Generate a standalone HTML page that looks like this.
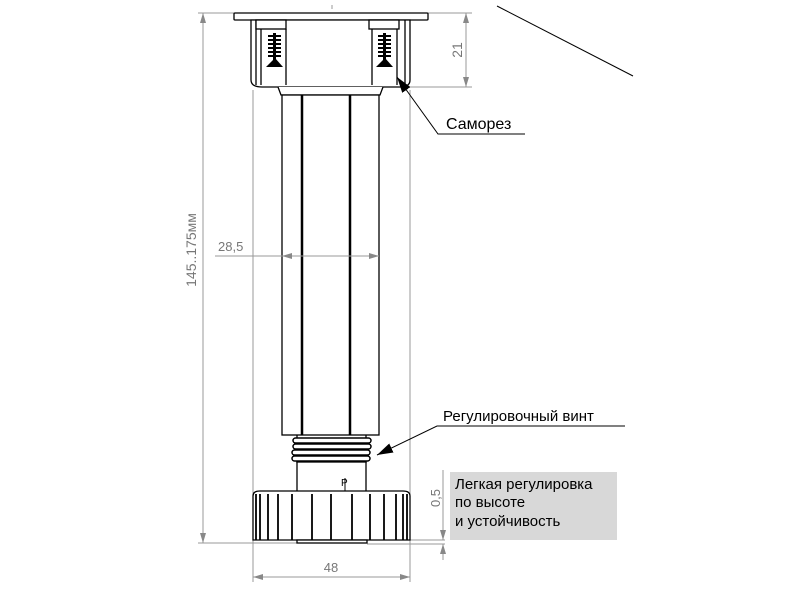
<!DOCTYPE html>
<html><head><meta charset="utf-8"><style>
html,body{margin:0;padding:0;background:#fff;}
svg{display:block;font-family:"Liberation Sans",Arial,sans-serif;}
</style></head><body>
<svg width="800" height="600" viewBox="0 0 800 600" xmlns="http://www.w3.org/2000/svg">
<defs>
<marker id="ag" markerWidth="10" markerHeight="6" refX="10" refY="3" orient="auto-start-reverse" markerUnits="userSpaceOnUse"><path d="M0,0 L10,3 L0,6 Z" fill="#888"/></marker>
<marker id="ab" markerWidth="16" markerHeight="10" refX="16" refY="5" orient="auto" markerUnits="userSpaceOnUse"><path d="M0,0 L16,5 L0,10 Z" fill="#000"/></marker>
</defs>
<g stroke="#999" stroke-width="1" fill="none">
<line x1="203" y1="13" x2="203" y2="543" marker-start="url(#ag)" marker-end="url(#ag)"/>
<line x1="198" y1="13" x2="234" y2="13"/>
<line x1="198" y1="543" x2="297" y2="543"/>
<line x1="428" y1="13" x2="472" y2="13"/>
<line x1="400" y1="87" x2="472" y2="87"/>
<line x1="466" y1="13" x2="466" y2="87" marker-start="url(#ag)" marker-end="url(#ag)"/>
<line x1="253" y1="90" x2="253" y2="582"/>
<line x1="410" y1="90" x2="410" y2="582"/>
<line x1="253" y1="577" x2="410" y2="577" marker-start="url(#ag)" marker-end="url(#ag)"/>
<line x1="410" y1="540" x2="445" y2="540"/>
<line x1="367" y1="544" x2="445" y2="544"/>
<line x1="443" y1="470" x2="443" y2="540" marker-end="url(#ag)"/>
<line x1="443" y1="560" x2="443" y2="544" marker-end="url(#ag)"/>
<line x1="332" y1="5" x2="332" y2="60" stroke-dasharray="4,8"/>
</g>
<text x="466" y="50" transform="rotate(-90 466 50)" font-size="14" fill="#777" text-anchor="middle" dy="-4">21</text>
<text x="196" y="250" transform="rotate(-90 196 250)" font-size="14" fill="#777" text-anchor="middle">145..175мм</text>
<text x="218" y="251" font-size="13" fill="#777">28,5</text>
<text x="331" y="572" font-size="13" fill="#777" text-anchor="middle">48</text>
<text x="440" y="498" transform="rotate(-90 440 498)" font-size="13" fill="#777" text-anchor="middle">0,5</text>
<line x1="497" y1="6" x2="633" y2="76" stroke="#000" stroke-width="1"/>
<g stroke="#000" stroke-width="1.3" fill="#fff">
<rect x="234" y="13" width="194" height="7" rx="1"/>
<path d="M251,20 L410,20 L410,80 Q410,87 400,87 L262,87 Q251,87 251,80 Z"/>
<line x1="256" y1="20" x2="256" y2="85"/>
<line x1="405" y1="20" x2="405" y2="85"/>
<rect x="256" y="20" width="30" height="9" fill="#fff"/>
<rect x="369" y="20" width="30" height="9" fill="#fff"/>
<line x1="261" y1="29" x2="261" y2="85"/>
<line x1="286" y1="29" x2="286" y2="85"/>
<line x1="372" y1="29" x2="372" y2="85"/>
<line x1="397" y1="29" x2="397" y2="85"/>
<path d="M278,87 L281,95 L380,95 L383,87"/>
<rect x="282" y="95" width="97" height="340"/>
<line x1="302" y1="95" x2="302" y2="435" stroke-width="2.5"/>
<line x1="350" y1="95" x2="350" y2="435" stroke-width="2.5"/>
<line x1="297" y1="435" x2="297" y2="463"/>
<line x1="366" y1="435" x2="366" y2="463"/>
<g fill="#fff" stroke-width="1.5">
<rect x="293" y="438" width="78" height="5" rx="2.5"/>
<rect x="293" y="444" width="78" height="5" rx="2.5"/>
<rect x="292" y="450" width="78" height="5" rx="2.5"/>
<rect x="292" y="456" width="78" height="5" rx="2.5"/>
</g>
<rect x="297" y="462" width="69" height="30"/>
<path d="M253,496 Q253,491 260,491 L403,491 Q410,491 410,496 L410,540 L253,540 Z"/>
<rect x="297" y="540" width="70" height="3"/>
</g>
<g stroke="#999" stroke-width="1" fill="none">
<line x1="215" y1="256" x2="282" y2="256"/>
<line x1="282" y1="256" x2="379" y2="256" marker-start="url(#ag)" marker-end="url(#ag)"/>
</g>
<g stroke="#000" stroke-width="1.8">
<line x1="256" y1="494" x2="256" y2="540"/><line x1="260" y1="494" x2="260" y2="540"/>
<line x1="268" y1="494" x2="268" y2="540"/><line x1="278" y1="494" x2="278" y2="540"/>
<line x1="292" y1="494" x2="292" y2="540"/><line x1="312" y1="494" x2="312" y2="540"/>
<line x1="331" y1="494" x2="331" y2="540"/><line x1="352" y1="494" x2="352" y2="540"/>
<line x1="370" y1="494" x2="370" y2="540"/><line x1="384" y1="494" x2="384" y2="540"/>
<line x1="396" y1="494" x2="396" y2="540"/><line x1="403" y1="494" x2="403" y2="540"/>
<line x1="407" y1="494" x2="407" y2="540"/>
<line x1="345" y1="478" x2="345" y2="491" stroke-width="1"/>
</g>
<text x="341" y="486" font-size="10">P</text>
<g fill="#000">
<rect x="273" y="33" width="3" height="28"/>
<path d="M268,36h13M268,40h13M268,44h13M268,48h13M268,52h13M268,56h13" stroke="#000" stroke-width="2"/>
<path d="M266,67 L283,67 L275,58 Z"/>
<rect x="383" y="33" width="3" height="28"/>
<path d="M378,36h13M378,40h13M378,44h13M378,48h13M378,52h13M378,56h13" stroke="#000" stroke-width="2"/>
<path d="M376,67 L393,67 L385,58 Z"/>
</g>
<polyline points="525,134 438,134 397,77" fill="none" stroke="#000" stroke-width="1" marker-end="url(#ab)"/>
<polyline points="625,426 437,426 377,455" fill="none" stroke="#000" stroke-width="1" marker-end="url(#ab)"/>
<text x="446" y="129" font-size="16">Саморез</text>
<text x="443" y="421" font-size="15">Регулировочный винт</text>
<rect x="450" y="472" width="167" height="68" fill="#d8d8d8"/>
<text font-size="15" fill="#000"><tspan x="455" y="489">Легкая регулировка</tspan><tspan x="455" y="507">по высоте</tspan><tspan x="455" y="526">и устойчивость</tspan></text>
</svg>
</body></html>
